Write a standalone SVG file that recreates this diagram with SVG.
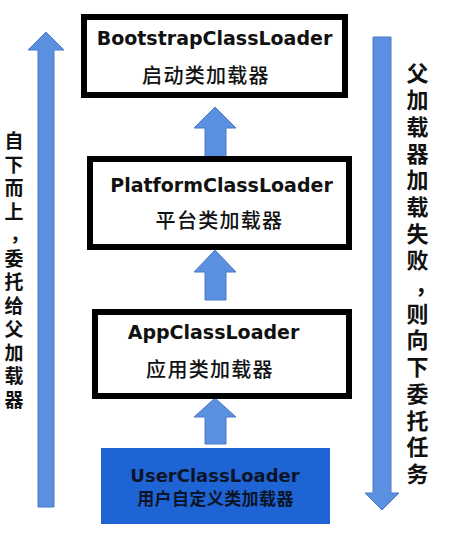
<svg xmlns="http://www.w3.org/2000/svg" width="452" height="545" viewBox="0 0 452 545">
<style>
.box{fill:#ffffff;stroke:#000000;stroke-width:6}
.en{font-family:"DejaVu Sans","Liberation Sans",sans-serif;font-weight:bold;font-size:19px;fill:#111111;text-anchor:middle}
.zh{font-family:"Noto Sans CJK SC",sans-serif;font-size:20px;font-weight:500;letter-spacing:1.3px;fill:#111111;text-anchor:middle}
.arrow{fill:#5b8fdf;stroke:#4a7bc8;stroke-width:1}
.side{font-family:"Noto Sans CJK SC",sans-serif;font-weight:bold;fill:#111111;text-anchor:middle}
</style>
<rect width="452" height="545" fill="#ffffff"/>

<g id="connectors">
  <path class="arrow" d="M215,107 L236,128 L226,128 L226,157 L205,157 L205,128 L194,128 Z"/>
  <path class="arrow" d="M215,250 L236,272 L226,272 L226,300 L205,300 L205,272 L194,272 Z"/>
  <path class="arrow" d="M215,398 L236,417 L226,417 L226,444 L205,444 L205,417 L194,417 Z"/>
</g>

<g id="side-arrows">
  <path class="arrow" d="M46,32 L64,50 L54,50 L54,507 L38,507 L38,50 L28,50 Z"/>
  <path class="arrow" d="M373,37 L391,37 L391,493 L399,493 L382,510 L365,493 L373,493 Z"/>
</g>

<g id="node-bootstrap">
  <rect class="box" x="84" y="17" width="261" height="78"/>
  <text class="en" x="214.5" y="45">BootstrapClassLoader</text>
  <text class="zh" x="206" y="83">启动类加载器</text>
</g>

<g id="node-platform">
  <rect class="box" x="90" y="159" width="259" height="88"/>
  <text class="en" x="221.5" y="192">PlatformClassLoader</text>
  <text class="zh" x="219.5" y="228">平台类加载器</text>
</g>

<g id="node-app">
  <rect class="box" x="95" y="312" width="254" height="84"/>
  <text class="en" x="213.5" y="339">AppClassLoader</text>
  <text class="zh" x="210" y="377">应用类加载器</text>
</g>

<g id="node-user">
  <rect x="101" y="448" width="229" height="76" fill="#1f64d4"/>
  <text class="en" x="215" y="482" style="font-size:18px;fill:#0b1428">UserClassLoader</text>
  <text class="zh" x="215.5" y="505" style="font-size:17px;letter-spacing:0.4px;font-weight:bold;fill:#0b1428">用户自定义类加载器</text>
</g>

<g id="label-left">
  <text class="side" style="font-size:19px" x="14 14 14 14 19.5 14 14 14 14 14 14 14" y="148.2 171.7 195.2 218.7 241 265.7 289.2 312.7 336.2 359.7 383.2 406.7">自下而上，委托给父加载器</text>
</g>

<g id="label-right">
  <text class="side" style="font-size:22px" x="417.5 417.5 417.5 417.5 417.5 417.5 417.5 417.5 426 417.5 417.5 417.5 417.5 417.5 417.5 417.5" y="81.4 108.1 134.8 161.5 188.2 214.9 241.6 268.3 293 321.7 348.4 375.1 401.8 428.5 455.2 481.9">父加载器加载失败，则向下委托任务</text>
</g>
</svg>
